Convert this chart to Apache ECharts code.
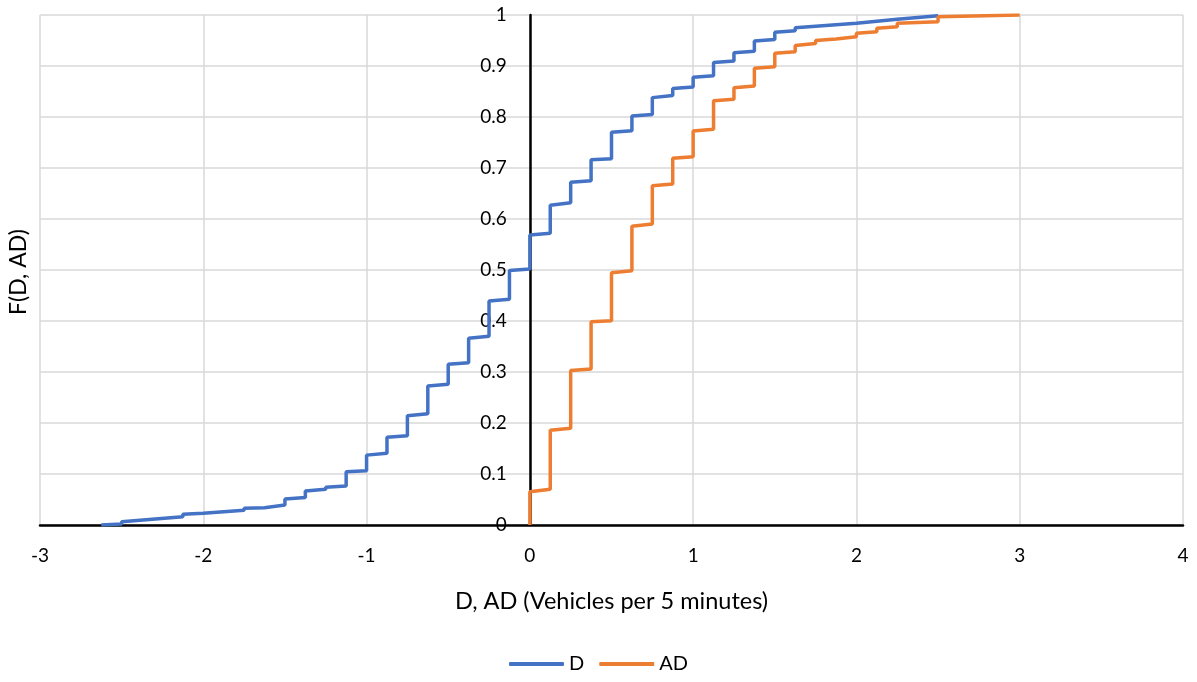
<!DOCTYPE html>
<html>
<head>
<meta charset="utf-8">
<script src="https://cdn.jsdelivr.net/npm/echarts@6/dist/echarts.min.js"></script>
<style>html,body{margin:0;padding:0;background:#fff}#c{width:1197px;height:682px}</style>
</head>
<body>
<div id="c"></div>
<script>
// Step locations and CDF value before / after each rise
const dX  = [-2.625,-2.5,-2.125,-2.0,-1.75,-1.625,-1.5,-1.375,-1.25,-1.125,-1.0,-0.875,-0.75,-0.625,-0.5,-0.375,-0.25,-0.125,0,0.125,0.25,0.375,0.5,0.625,0.75,0.875,1.0,1.125,1.25,1.375,1.5,1.625,2.0,2.25,2.5];
const dLo = [0.000,0.002,0.016,0.023,0.029,0.034,0.039,0.054,0.070,0.0765,0.1065,0.1405,0.175,0.218,0.276,0.318,0.370,0.4425,0.502,0.572,0.632,0.675,0.718,0.773,0.805,0.842,0.859,0.881,0.910,0.929,0.952,0.969,0.9836,0.9915,0.9987];
const dHi = [0.001,0.0065,0.021,0.025,0.033,0.037,0.051,0.0667,0.074,0.1046,0.137,0.172,0.214,0.2725,0.315,0.366,0.439,0.499,0.5686,0.627,0.672,0.716,0.770,0.802,0.838,0.856,0.878,0.907,0.926,0.949,0.966,0.975,0.987,0.9954,1.0];

const adX  = [0,0.125,0.25,0.375,0.5,0.625,0.75,0.875,1.0,1.125,1.25,1.375,1.5,1.625,1.75,1.875,2.0,2.125,2.25,2.5,3.0];
const adLo = [0.000,0.070,0.1895,0.306,0.4006,0.4987,0.590,0.6686,0.722,0.776,0.835,0.861,0.8987,0.928,0.944,0.953,0.9575,0.967,0.977,0.987,1.0];
const adHi = [0.0653,0.186,0.303,0.3987,0.4947,0.586,0.665,0.719,0.7725,0.832,0.8575,0.8954,0.925,0.940,0.950,0.956,0.964,0.974,0.9836,0.9967,1.0];

const seriesNames = ['D', 'AD'];
const xTicks = [-3,-2,-1,0,1,2,3,4];
const yTicks = [0, 1];

function steps(xs, lo, hi) {
  const pts = [];
  for (let i = 0; i < xs.length; i++) {
    pts.push([xs[i], lo[i]]);
    pts.push([xs[i], hi[i]]);
  }
  return pts;
}

const font = 'Lato, "Noto Sans", sans-serif';
const chart = echarts.init(document.getElementById('c'), null, {renderer: 'canvas'});
chart.setOption({
  animation: false,
  backgroundColor: '#fff',
  grid: {left: 40, right: 14, top: 15, bottom: 157, containLabel: false, outerBoundsMode: 'none'},
  xAxis: {
    type: 'value', min: xTicks[0], max: xTicks[xTicks.length - 1], interval: 1,
    name: 'D, AD (Vehicles per 5 minutes)', nameLocation: 'middle', nameGap: 64,
    nameTextStyle: {fontFamily: font, fontSize: 23.5, color: '#000'},
    axisLine: {show: true, onZero: false, lineStyle: {color: '#000', width: 2.5}},
    axisTick: {show: false},
    axisLabel: {fontFamily: font, fontSize: 19, color: '#000', margin: 21},
    splitLine: {show: true, lineStyle: {color: '#d9d9d9', width: 1.5}}
  },
  yAxis: {
    type: 'value', min: yTicks[0], max: yTicks[1], interval: 0.1,
    axisLine: {show: true, onZero: false, lineStyle: {color: '#000', width: 2.5}},
    axisTick: {show: false},
    axisLabel: {fontFamily: font, fontSize: 19, color: '#000', margin: 23,
      formatter: v => String(+v.toFixed(1))},
    splitLine: {show: true, lineStyle: {color: '#d9d9d9', width: 1.5}}
  },
  legend: {
    bottom: 3, left: 'center', icon: 'roundRect', itemWidth: 55, itemHeight: 4, itemGap: 15,
    textStyle: {fontFamily: font, fontSize: 20, color: '#000'},
    data: seriesNames
  },
  graphic: [{
    type: 'text', x: 19, y: 272, rotation: Math.PI / 2,
    style: {text: 'F(D, AD)', font: '23px ' + font, fill: '#000', align: 'center', verticalAlign: 'middle'}
  }],
  series: [
    {name: seriesNames[0], type: 'line', data: steps(dX, dLo, dHi), showSymbol: false,
     lineStyle: {color: '#4472C4', width: 3.5}, itemStyle: {color: '#4472C4'}, z: 3},
    {name: seriesNames[1], type: 'line', data: steps(adX, adLo, adHi), showSymbol: false,
     lineStyle: {color: '#ED7D31', width: 3.5}, itemStyle: {color: '#ED7D31'}, z: 4}
  ]
});
// Move the y axis (line + labels) to x = 0, as in the reference
const zeroPx = chart.convertToPixel({xAxisIndex: 0}, 0);
const leftPx = chart.convertToPixel({xAxisIndex: 0}, xTicks[0]);
chart.setOption({yAxis: {offset: -(zeroPx - leftPx)}});
</script>
</body>
</html>
